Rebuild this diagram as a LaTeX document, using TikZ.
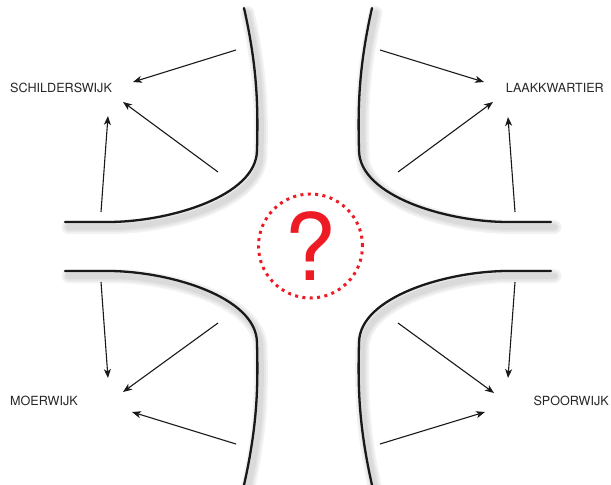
\documentclass[tikz,border=0pt]{standalone}
\usepackage{fontspec}
\setmainfont{TeX Gyre Heros}
\usepackage{tikz}
\usetikzlibrary{arrows.meta, positioning}
\definecolor{qred}{RGB}{237,28,36}

\begin{document}
\begin{tikzpicture}[
  x=1pt, y=-1pt,
  font=\fontsize{12.6}{14}\selectfont,
  >={Stealth[length=9pt, width=7pt, inset=2.5pt]},
  % road and shadow styles
  road/.style={line width=2.3pt, draw=black!90, line cap=round},
  roadshadow/.style={line width=#1, draw=black, opacity=0.05, line cap=round},
  flow/.style={->, line width=1.1pt, draw=black!90},
  wijk/.style={text=black!85, inner sep=0pt},
  vraag/.style={
    circle, draw=qred, line width=3pt, dash pattern=on 3pt off 4.4pt,
    minimum size=104pt, inner sep=0pt, text=qred,
    font=\fontsize{93}{93}\selectfont
  }
]
\useasboundingbox (0,0) rectangle (611,485);

% Soft shadows under the roads
\foreach \sx/\sy in {1/1,-1/1,1/-1,-1/-1} {
  \foreach \w in {14pt,10pt,6pt} {
    \begin{scope}[shift={(311.5,251.5)}, xscale=\sx, yscale=\sy]
      \draw[roadshadow=\w] (-64,-238.5) .. controls (-50,-176.5) and (-50,-136.5) .. (-51,-96.5)
        .. controls (-51,-50) and (-140,-24.5) .. (-200,-24.5) -- (-243,-24.5);
    \end{scope}
  }
}

% Roads
\foreach \sx/\sy in {1/1,-1/1,1/-1,-1/-1} {
  \begin{scope}[shift={(308,246.5)}, xscale=\sx, yscale=\sy]
    \draw[road] (-64,-238.5) .. controls (-50,-176.5) and (-50,-136.5) .. (-51,-96.5)
      .. controls (-51,-50) and (-140,-24.5) .. (-200,-24.5) -- (-243,-24.5);
  \end{scope}
}

% Districts
\node[wijk, anchor=west] (schilder) at (10,88) {SCHILDERSWIJK};
\node[wijk, anchor=east] (laak) at (604,88) {LAAKKWARTIER};
\node[wijk, anchor=west] (moer) at (10,401) {MOERWIJK};
\node[wijk, anchor=east] (spoor) at (609,401) {SPOORWIJK};

% Question in the middle
\node[vraag] (vraag) at (310.5,246) {?};

% Arrow ends
\coordinate (s1a) at (236,50);  \coordinate (s1b) at (133,82);
\coordinate (s2a) at (218,172); \coordinate (s2b) at (123,102);
\coordinate (s3a) at (101,212); \coordinate (s3b) at (108,116);
\coordinate (l1a) at (380,50);  \coordinate (l1b) at (484,82);
\coordinate (l2a) at (398,172); \coordinate (l2b) at (493,102);
\coordinate (l3a) at (515,212); \coordinate (l3b) at (508,117);
\coordinate (m1a) at (101,282); \coordinate (m1b) at (108,378);
\coordinate (m2a) at (218,323); \coordinate (m2b) at (123,392);
\coordinate (m3a) at (236,444); \coordinate (m3b) at (132,412);
\coordinate (p1a) at (515,282); \coordinate (p1b) at (508,378);
\coordinate (p2a) at (398,323); \coordinate (p2b) at (494,393);
\coordinate (p3a) at (380,444); \coordinate (p3b) at (485,412);

% Flow arrows
\foreach \a in {s1,s2,s3,l1,l2,l3,m1,m2,m3,p1,p2,p3}
  \draw[flow] (\a a) -- (\a b);

\end{tikzpicture}
\end{document}
